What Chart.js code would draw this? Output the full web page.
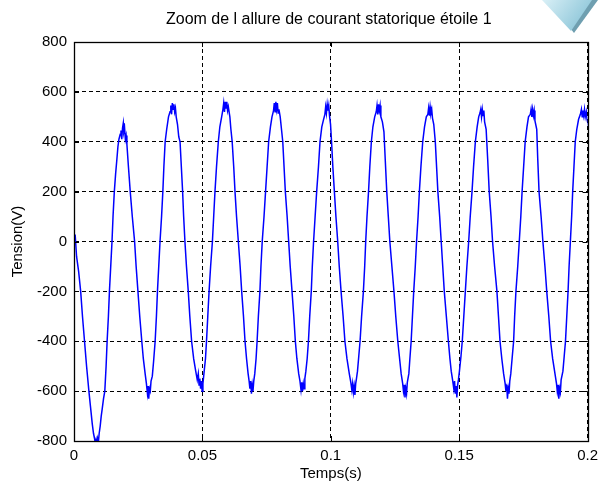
<!DOCTYPE html>
<html>
<head>
<meta charset="utf-8">
<script src="https://cdn.jsdelivr.net/npm/chart.js@4.4.1/dist/chart.umd.min.js"></script>
<style>
  html, body { margin: 0; padding: 0; background: #fff; }
  #wrap { width: 604px; height: 492px; }
</style>
</head>
<body>
<div id="wrap"><canvas id="courbe" width="604" height="492"></canvas></div>
<script>
// titre et axes
const titre = "Zoom de l allure de courant statorique étoile 1";
const titreX = "Temps(s)";
const titreY = "Tension(V)";
const ticksX = ["0", "0.05", "0.1", "0.15", "0.2"];
const ticksY = ["-800", "-600", "-400", "-200", "0", "200", "400", "600", "800"];

// echantillons : [temps (s), tension (V)]
const echantillons = [
  [0.0000, 10], [0.0005, 20], [0.0010, -60], [0.0018, -120], [0.0026, -200], [0.0033, -300],
  [0.0041, -400], [0.0049, -500], [0.0058, -600], [0.0064, -660], [0.0071, -730], [0.0076, -770],
  [0.0080, -790], [0.0083, -810], [0.0086, -795], [0.0089, -815], [0.0092, -790], [0.0095, -805], [0.0098, -770],
  [0.0102, -740], [0.0106, -700], [0.0110, -670], [0.0115, -630], [0.0120, -600], [0.0125, -500],
  [0.0129, -400], [0.0134, -300], [0.0138, -200], [0.0143, -100], [0.0148, 0], [0.0152, 100],
  [0.0157, 200], [0.0162, 270], [0.0167, 330], [0.0171, 380], [0.0175, 410], [0.0180, 430],
  [0.0183, 445], [0.0186, 410], [0.0189, 455], [0.0192, 475], [0.0194, 440], [0.0197, 455], [0.0200, 410], [0.0203, 425],
  [0.0206, 390], [0.0212, 300], [0.0219, 200], [0.0227, 100], [0.0236, 0], [0.0242, -100],
  [0.0249, -200], [0.0256, -300], [0.0264, -400], [0.0270, -470], [0.0277, -530], [0.0282, -570],
  [0.0286, -610], [0.0289, -580], [0.0291, -630], [0.0294, -590], [0.0297, -600], [0.0300, -560],
  [0.0305, -540], [0.0310, -480], [0.0316, -400], [0.0321, -300], [0.0325, -200], [0.0330, -100],
  [0.0335, 0], [0.0341, 100], [0.0346, 200], [0.0350, 300], [0.0355, 400], [0.0361, 450], [0.0368, 500],
  [0.0374, 520], [0.0377, 545], [0.0380, 510], [0.0383, 555], [0.0386, 530], [0.0389, 550], [0.0392, 520], [0.0395, 535], [0.0398, 500],
  [0.0403, 470], [0.0408, 420], [0.0413, 400], [0.0418, 300], [0.0423, 200], [0.0427, 100], [0.0432, 0],
  [0.0438, -100], [0.0445, -200], [0.0451, -300], [0.0458, -400], [0.0466, -470], [0.0474, -520],
  [0.0480, -555], [0.0484, -530], [0.0487, -575], [0.0490, -550], [0.0493, -590], [0.0496, -560], [0.0499, -600], [0.0502, -570],
  [0.0507, -520], [0.0512, -470], [0.0516, -400], [0.0521, -300], [0.0526, -200], [0.0532, -100],
  [0.0539, 0], [0.0544, 100], [0.0549, 200], [0.0555, 300], [0.0562, 400], [0.0568, 460], [0.0575, 500],
  [0.0580, 530], [0.0583, 555], [0.0586, 520], [0.0589, 560], [0.0592, 535], [0.0595, 560], [0.0598, 525], [0.0601, 540],
  [0.0607, 500], [0.0611, 450], [0.0616, 400], [0.0622, 300], [0.0627, 200], [0.0633, 100], [0.0640, 0],
  [0.0647, -100], [0.0653, -200], [0.0660, -300], [0.0666, -400], [0.0672, -470], [0.0678, -530],
  [0.0682, -560], [0.0685, -590], [0.0688, -560], [0.0691, -610], [0.0694, -575], [0.0697, -600], [0.0700, -560],
  [0.0704, -530], [0.0709, -470], [0.0713, -400], [0.0718, -300], [0.0724, -200], [0.0728, -100],
  [0.0733, 0], [0.0740, 100], [0.0746, 200], [0.0752, 300], [0.0758, 400], [0.0765, 460], [0.0771, 500],
  [0.0777, 525], [0.0780, 555], [0.0783, 520], [0.0786, 560], [0.0789, 530], [0.0792, 555], [0.0795, 515], [0.0798, 530],
  [0.0803, 500], [0.0808, 450], [0.0813, 400], [0.0818, 300], [0.0823, 200], [0.0830, 100], [0.0836, 0],
  [0.0842, -100], [0.0849, -200], [0.0856, -300], [0.0862, -400], [0.0868, -470], [0.0875, -530],
  [0.0880, -560], [0.0884, -595], [0.0887, -565], [0.0890, -600], [0.0893, -570], [0.0896, -590], [0.0899, -550],
  [0.0903, -520], [0.0908, -470], [0.0913, -400], [0.0918, -300], [0.0924, -200], [0.0928, -100],
  [0.0933, 0], [0.0939, 100], [0.0945, 200], [0.0952, 300], [0.0958, 400], [0.0965, 460], [0.0972, 490],
  [0.0977, 510], [0.0980, 540], [0.0983, 515], [0.0986, 550], [0.0989, 525], [0.0992, 545], [0.0995, 505],
  [0.0999, 470], [0.1003, 400], [0.1008, 300], [0.1014, 200], [0.1020, 100], [0.1027, 0],
  [0.1033, -100], [0.1040, -200], [0.1048, -300], [0.1055, -400], [0.1063, -470], [0.1072, -530],
  [0.1078, -565], [0.1082, -595], [0.1085, -570], [0.1088, -605], [0.1091, -580], [0.1094, -615], [0.1097, -570],
  [0.1100, -550], [0.1104, -520], [0.1109, -460], [0.1114, -400], [0.1120, -300], [0.1127, -200], [0.1132, -100],
  [0.1136, 0], [0.1141, 100], [0.1147, 200], [0.1152, 300], [0.1158, 400], [0.1164, 460], [0.1171, 500],
  [0.1177, 520], [0.1180, 545], [0.1183, 510], [0.1186, 550], [0.1189, 525], [0.1192, 545], [0.1195, 500],
  [0.1201, 480], [0.1207, 440], [0.1212, 330], [0.1218, 200], [0.1224, 100], [0.1230, 0],
  [0.1238, -100], [0.1246, -200], [0.1253, -300], [0.1261, -400], [0.1268, -470], [0.1274, -530],
  [0.1280, -570], [0.1283, -600], [0.1286, -575], [0.1289, -625], [0.1292, -590], [0.1295, -610], [0.1298, -565],
  [0.1304, -530], [0.1308, -470], [0.1313, -400], [0.1318, -300], [0.1323, -200], [0.1329, -100],
  [0.1334, 0], [0.1340, 100], [0.1345, 200], [0.1351, 300], [0.1358, 400], [0.1365, 460], [0.1372, 500],
  [0.1378, 510], [0.1381, 535], [0.1384, 505], [0.1387, 540], [0.1390, 515], [0.1393, 530], [0.1396, 495],
  [0.1401, 470], [0.1407, 400], [0.1412, 300], [0.1417, 200], [0.1424, 100], [0.1430, 0],
  [0.1436, -100], [0.1442, -200], [0.1450, -300], [0.1458, -400], [0.1464, -470], [0.1469, -520],
  [0.1475, -560], [0.1479, -590], [0.1482, -560], [0.1485, -610], [0.1488, -580], [0.1491, -625], [0.1494, -575],
  [0.1497, -555], [0.1501, -520], [0.1507, -460], [0.1512, -400], [0.1518, -300], [0.1524, -200], [0.1530, -100],
  [0.1537, 0], [0.1543, 100], [0.1550, 200], [0.1556, 300], [0.1563, 400], [0.1570, 460], [0.1576, 500],
  [0.1581, 515], [0.1584, 530], [0.1587, 500], [0.1590, 530], [0.1593, 505], [0.1596, 525], [0.1599, 480],
  [0.1605, 450], [0.1611, 330], [0.1617, 200], [0.1624, 100], [0.1630, 0],
  [0.1638, -100], [0.1647, -200], [0.1653, -300], [0.1659, -400], [0.1666, -470], [0.1673, -530],
  [0.1679, -570], [0.1682, -600], [0.1685, -575], [0.1688, -630], [0.1691, -590], [0.1694, -610], [0.1697, -560],
  [0.1701, -530], [0.1706, -470], [0.1712, -400], [0.1716, -300], [0.1721, -200], [0.1728, -100],
  [0.1734, 0], [0.1740, 100], [0.1745, 200], [0.1751, 300], [0.1757, 400], [0.1764, 460], [0.1770, 500],
  [0.1777, 510], [0.1780, 530], [0.1783, 500], [0.1786, 530], [0.1789, 505], [0.1792, 525], [0.1795, 485],
  [0.1802, 450], [0.1806, 330], [0.1811, 200], [0.1819, 100], [0.1826, 0],
  [0.1834, -100], [0.1841, -200], [0.1849, -300], [0.1856, -400], [0.1864, -470], [0.1873, -530],
  [0.1879, -570], [0.1882, -600], [0.1885, -575], [0.1888, -630], [0.1891, -590], [0.1894, -605], [0.1897, -555],
  [0.1904, -520], [0.1909, -460], [0.1914, -400], [0.1919, -300], [0.1924, -200], [0.1928, -100],
  [0.1933, 0], [0.1938, 100], [0.1942, 200], [0.1947, 300], [0.1952, 400], [0.1958, 450], [0.1965, 490],
  [0.1972, 510], [0.1976, 530], [0.1979, 500], [0.1982, 525], [0.1985, 505], [0.1988, 530], [0.1991, 500],
  [0.1995, 520], [0.1998, 490], [0.2000, 480]
];

Chart.defaults.font.family = '"Liberation Sans", Arial, sans-serif';
Chart.defaults.font.size = 15;
Chart.defaults.color = "#000";

// cadre, graduations interieures, titre et petit triangle decoratif
const habillage = {
  id: "habillage",
  afterDraw(chart) {
    const { ctx, chartArea: a, scales } = chart;
    ctx.save();
    ctx.strokeStyle = "#000";
    ctx.lineWidth = 1;
    ctx.beginPath();
    scales.x.ticks.forEach(t => {
      const px = Math.round(scales.x.getPixelForValue(t.value)) + 0.5;
      ctx.moveTo(px, a.bottom); ctx.lineTo(px, a.bottom - 5);
      ctx.moveTo(px, a.top); ctx.lineTo(px, a.top + 5);
    });
    scales.y.ticks.forEach(t => {
      const py = Math.round(scales.y.getPixelForValue(t.value)) + 0.5;
      ctx.moveTo(a.left, py); ctx.lineTo(a.left + 5, py);
      ctx.moveTo(a.right, py); ctx.lineTo(a.right - 5, py);
    });
    ctx.stroke();
    ctx.lineWidth = 1.3;
    ctx.strokeRect(Math.round(a.left) + 0.5, Math.round(a.top) + 0.5,
                   Math.round(a.right - a.left), Math.round(a.bottom - a.top));

    ctx.fillStyle = "#000";
    ctx.font = '16px "Liberation Sans", Arial, sans-serif';
    ctx.textAlign = "center";
    ctx.textBaseline = "middle";
    ctx.fillText(titre, (a.left + a.right) / 2 - 2, 20);

    // triangle
    ctx.fillStyle = "#6f9fb0";
    ctx.beginPath();
    ctx.moveTo(548, 0); ctx.lineTo(598, 0); ctx.lineTo(574, 33); ctx.closePath();
    ctx.fill();
    const g = ctx.createLinearGradient(545, 0, 585, 30);
    g.addColorStop(0, "#d6eef5");
    g.addColorStop(1, "#86c2d6");
    ctx.fillStyle = g;
    ctx.beginPath();
    ctx.moveTo(542, 0); ctx.lineTo(592, 0); ctx.lineTo(571, 31); ctx.closePath();
    ctx.fill();
    ctx.restore();
  }
};

new Chart(document.getElementById("courbe").getContext("2d"), {
  type: "line",
  data: {
    datasets: [{
      data: echantillons.map(([t, v]) => ({ x: t, y: v })),
      borderColor: "#0000ff",
      borderWidth: 1.5,
      pointRadius: 0,
      tension: 0,
      fill: false
    }]
  },
  options: {
    responsive: false,
    animation: false,
    layout: { padding: { top: 42, right: 13, left: 0, bottom: 0 } },
    plugins: { legend: { display: false }, title: { display: false }, tooltip: { enabled: false } },
    scales: {
      x: {
        type: "linear",
        min: 0, max: 0.2,
        afterFit: s => { s.height = 51; },
        ticks: { stepSize: 0.05, padding: 6, maxRotation: 0, callback: (v, i) => ticksX[i] },
        grid: { color: "#000", lineWidth: 1, drawTicks: false },
        border: { display: true, color: "#000", dash: [4, 3] },
        title: { display: true, text: titreX, padding: { top: 0, bottom: 9 }, font: { size: 15 } }
      },
      y: {
        min: -800, max: 800,
        afterFit: s => { s.width = 74; },
        ticks: { stepSize: 200, padding: 7, callback: (v, i) => ticksY[i] },
        grid: { color: "#000", lineWidth: 1, drawTicks: false },
        border: { display: true, color: "#000", dash: [4, 3] },
        title: { display: true, text: titreY, padding: { top: 9, bottom: 0 }, font: { size: 15 } }
      }
    }
  },
  plugins: [habillage]
});
</script>
</body>
</html>
